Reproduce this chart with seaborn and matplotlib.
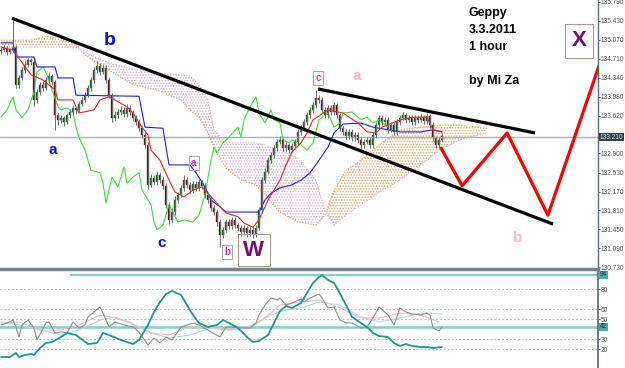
"""Geppy 3.3.2011, 1 hour chart with Ichimoku and wave marks
"""

import numpy as np
import pandas as pd
import matplotlib

matplotlib.use("Agg")
import matplotlib.pyplot as plt
import seaborn as sns

# hourly candles: open, high, low, close (bar 0 = left edge of chart)
candles = [
    (134.85, 134.95, 134.80, 134.87), (134.87, 134.96, 134.83, 134.91), (134.91, 134.95, 134.78, 134.84),
    (134.84, 134.92, 134.80, 134.87), (134.87, 135.45, 134.84, 134.93), (134.93, 134.97, 134.14, 134.21),
    (134.21, 134.40, 134.15, 134.34), (134.34, 134.55, 134.30, 134.49), (134.49, 134.66, 134.44, 134.59),
    (134.59, 134.74, 134.55, 134.68), (134.68, 134.72, 134.58, 134.64), (134.64, 134.68, 133.80, 133.92),
    (133.92, 134.12, 133.86, 134.07), (134.07, 134.26, 134.02, 134.21), (134.21, 134.28, 134.10, 134.15),
    (134.15, 134.36, 134.11, 134.30), (134.30, 134.45, 134.25, 134.38), (134.38, 134.42, 134.20, 134.26),
    (134.26, 134.30, 133.35, 133.63), (133.63, 133.68, 133.45, 133.54), (133.54, 133.64, 133.48, 133.58),
    (133.58, 133.62, 133.42, 133.50), (133.50, 133.68, 133.46, 133.63), (133.63, 133.75, 133.58, 133.69),
    (133.69, 133.83, 133.64, 133.77), (133.77, 133.80, 133.66, 133.73), (133.73, 133.90, 133.69, 133.84),
    (133.84, 133.98, 133.80, 133.92), (133.92, 134.07, 133.88, 134.01), (134.01, 134.21, 133.97, 134.15),
    (134.15, 134.36, 134.10, 134.30), (134.30, 134.55, 134.25, 134.49), (134.49, 134.66, 134.44, 134.57),
    (134.57, 134.62, 134.40, 134.45), (134.45, 134.60, 134.41, 134.53), (134.53, 134.58, 134.24, 134.30),
    (134.30, 134.35, 133.95, 134.01), (134.01, 134.05, 133.50, 133.58), (133.58, 133.70, 133.52, 133.63),
    (133.63, 133.75, 133.58, 133.69), (133.69, 133.80, 133.64, 133.73), (133.73, 133.78, 133.59, 133.65),
    (133.65, 133.84, 133.60, 133.77), (133.77, 133.82, 133.63, 133.69), (133.69, 133.73, 133.52, 133.58),
    (133.58, 133.63, 133.44, 133.50), (133.50, 133.56, 133.32, 133.38), (133.38, 133.44, 133.19, 133.25),
    (133.25, 133.31, 133.00, 133.06), (133.06, 133.12, 132.22, 132.30), (132.30, 132.50, 132.25, 132.43),
    (132.43, 132.48, 132.29, 132.35), (132.35, 132.56, 132.30, 132.49), (132.49, 132.54, 132.33, 132.39),
    (132.39, 132.45, 132.22, 132.28), (132.28, 132.33, 131.85, 131.92), (131.92, 131.98, 131.55, 131.63),
    (131.63, 131.85, 131.58, 131.78), (131.78, 132.08, 131.73, 132.01), (132.01, 132.17, 131.96, 132.11),
    (132.11, 132.30, 132.06, 132.24), (132.24, 132.48, 132.19, 132.39), (132.39, 132.44, 132.24, 132.30),
    (132.30, 132.35, 132.14, 132.20), (132.20, 132.38, 132.15, 132.32), (132.32, 132.37, 132.18, 132.24),
    (132.24, 132.42, 132.19, 132.35), (132.35, 132.40, 132.22, 132.28), (132.28, 132.33, 132.05, 132.11),
    (132.11, 132.16, 131.95, 132.01), (132.01, 132.06, 131.80, 131.86), (131.86, 131.92, 131.72, 131.78),
    (131.78, 131.83, 131.52, 131.59), (131.59, 131.64, 131.11, 131.34), (131.34, 131.50, 131.28, 131.44),
    (131.44, 131.65, 131.39, 131.59), (131.59, 131.64, 131.45, 131.51), (131.51, 131.69, 131.46, 131.63),
    (131.63, 131.68, 131.47, 131.53), (131.53, 131.58, 131.42, 131.48), (131.48, 131.53, 131.33, 131.40),
    (131.40, 131.54, 131.35, 131.48), (131.48, 131.52, 131.31, 131.38), (131.38, 131.50, 131.33, 131.44),
    (131.44, 131.49, 131.29, 131.36), (131.36, 131.54, 131.31, 131.48), (131.48, 131.88, 131.43, 131.82),
    (131.82, 132.45, 131.77, 132.39), (132.39, 132.62, 132.33, 132.55), (132.55, 132.84, 132.50, 132.77),
    (132.77, 132.93, 132.72, 132.87), (132.87, 133.06, 132.82, 133.00), (133.00, 133.18, 132.95, 133.12),
    (133.12, 133.24, 133.07, 133.16), (133.16, 133.20, 132.94, 133.00), (133.00, 133.12, 132.95, 133.06),
    (133.06, 133.10, 132.90, 132.96), (132.96, 133.10, 132.91, 133.04), (133.04, 133.18, 132.99, 133.12),
    (133.12, 133.37, 133.07, 133.31), (133.31, 133.44, 133.26, 133.38), (133.38, 133.56, 133.33, 133.50),
    (133.50, 133.69, 133.45, 133.63), (133.63, 133.79, 133.58, 133.73), (133.73, 133.88, 133.68, 133.82),
    (133.82, 134.11, 133.77, 133.96), (133.96, 134.01, 133.86, 133.92), (133.92, 133.97, 133.67, 133.73),
    (133.73, 133.78, 133.57, 133.63), (133.63, 133.83, 133.58, 133.77), (133.77, 133.82, 133.63, 133.69),
    (133.69, 133.88, 133.64, 133.82), (133.82, 133.87, 133.57, 133.63), (133.63, 133.68, 133.32, 133.38),
    (133.38, 133.43, 133.25, 133.31), (133.31, 133.36, 133.17, 133.23), (133.23, 133.37, 133.18, 133.31),
    (133.31, 133.36, 133.13, 133.19), (133.19, 133.31, 133.14, 133.25), (133.25, 133.30, 133.10, 133.16),
    (133.16, 133.21, 132.92, 133.06), (133.06, 133.18, 133.01, 133.12), (133.12, 133.22, 133.07, 133.16),
    (133.16, 133.21, 133.00, 133.06), (133.06, 133.31, 133.01, 133.25), (133.25, 133.50, 133.20, 133.44),
    (133.44, 133.64, 133.39, 133.58), (133.58, 133.63, 133.44, 133.50), (133.50, 133.60, 133.45, 133.54),
    (133.54, 133.59, 133.29, 133.35), (133.35, 133.50, 133.30, 133.44), (133.44, 133.49, 133.25, 133.31),
    (133.31, 133.56, 133.26, 133.50), (133.50, 133.64, 133.45, 133.58), (133.58, 133.69, 133.53, 133.63),
    (133.63, 133.68, 133.48, 133.54), (133.54, 133.64, 133.49, 133.58), (133.58, 133.63, 133.44, 133.50),
    (133.50, 133.64, 133.45, 133.58), (133.58, 133.63, 133.48, 133.54), (133.54, 133.65, 133.49, 133.59),
    (133.59, 133.64, 133.46, 133.52), (133.52, 133.67, 133.47, 133.61), (133.61, 133.66, 133.38, 133.44),
    (133.44, 133.49, 133.13, 133.19), (133.19, 133.24, 133.00, 133.06), (133.06, 133.22, 133.01, 133.16),
    (133.16, 133.29, 133.11, 133.23),
]

# Ichimoku: tenkan (red), kijun (blue), chikou (green)
tenkan_bar = [0, 4, 10, 14, 18, 19, 24, 26, 31, 33, 36, 42, 44, 47, 49, 50, 53, 56, 58, 61, 64, 67, 71, 73,
              75, 79, 81, 84, 86, 89, 91, 93, 95, 97, 100, 102, 104, 109, 114, 119, 122, 125, 127, 133,
              137, 142, 144, 147]
tenkan = [134.93, 134.87, 134.40, 134.30, 134.11, 133.92, 133.92, 133.67, 133.73, 133.92, 133.98, 133.79,
          133.67, 133.40, 133.25, 132.96, 132.77, 132.39, 132.16, 132.07, 132.20, 132.26, 132.01, 131.88,
          131.76, 131.69, 131.57, 131.49, 131.63, 132.01, 132.20, 132.39, 132.68, 132.93, 133.10, 133.29,
          133.54, 133.73, 133.67, 133.48, 133.31, 133.29, 133.40, 133.54, 133.59, 133.59, 133.35, 133.31]

kijun_bar = [0, 4, 5, 11, 12, 18, 19, 24, 25, 46, 48, 54, 55, 56, 63, 65, 68, 70, 73, 75, 86, 88, 90, 93,
             97, 100, 103, 106, 109, 111, 114, 120, 124, 129, 133, 140, 144, 147]
kijun = [135.01, 135.01, 134.74, 134.74, 134.55, 134.55, 134.34, 134.34, 134.01, 133.99, 133.40, 133.38,
         133.02, 132.68, 132.68, 132.53, 132.26, 132.01, 131.88, 131.78, 131.78, 132.01, 132.14, 132.24,
         132.30, 132.39, 132.53, 132.77, 133.02, 133.29, 133.46, 133.48, 133.40, 133.35, 133.31, 133.31,
         133.35, 133.31]

chikou_bar = [0, 2, 4, 5, 7, 9, 11, 12, 14, 15, 17, 19, 20, 22, 24, 25, 26, 28, 30, 33, 34, 35, 36, 37,
              39, 41, 42, 44, 46, 47, 50, 51, 52, 54, 56, 59, 61, 64, 66, 68, 70, 71, 72, 74, 76, 79, 80,
              81, 83, 85, 86, 88, 90, 91, 93, 94, 96, 97, 100, 102, 104, 106, 109, 111, 113, 114, 117,
              120, 122, 124, 126, 129]
chikou = [133.59, 133.73, 133.98, 133.73, 133.58, 133.73, 134.07, 134.45, 134.55, 134.45, 134.11, 133.79,
          133.73, 133.77, 133.67, 133.40, 133.21, 132.96, 132.58, 132.53, 132.33, 131.95, 132.20, 132.45,
          132.26, 132.64, 132.33, 132.45, 132.53, 132.20, 131.92, 131.59, 131.44, 131.53, 131.92, 131.59,
          131.63, 131.59, 131.72, 132.11, 132.77, 133.02, 132.91, 133.10, 133.21, 133.40, 133.21, 133.54,
          133.79, 133.98, 133.67, 133.48, 133.73, 133.54, 133.48, 133.16, 133.10, 133.16, 133.06, 132.96,
          133.10, 133.54, 133.67, 133.40, 133.48, 133.67, 133.69, 133.54, 133.59, 133.48, 133.54, 133.40]

# cloud: senkou span A (sandy) and span B (thistle)
cloud_bar = [0, 10, 15, 20, 25, 28, 32, 36, 44, 52, 60, 63, 66, 69, 71, 75, 80, 85, 88, 93, 99, 105, 108,
             111, 115, 120, 126, 133, 140, 146, 153, 162]
span_a = [135.06, 135.06, 135.14, 135.06, 134.99, 134.78, 134.63, 134.49, 134.21, 134.11, 133.92, 133.73,
          133.59, 133.29, 133.00, 132.62, 132.39, 132.30, 132.11, 131.78, 131.59, 131.53, 131.72, 132.20,
          132.58, 132.77, 133.06, 133.35, 133.40, 133.44, 133.44, 133.38]
span_b = [134.93, 134.93, 134.93, 134.93, 134.91, 134.85, 134.72, 134.63, 134.51, 134.43, 134.40, 134.38,
          134.21, 133.92, 133.35, 133.10, 133.10, 133.10, 133.06, 132.96, 132.81, 132.39, 131.82, 131.53,
          131.72, 131.92, 132.16, 132.39, 132.68, 132.96, 133.16, 133.29]

# drawn trend lines and projected zigzag (bar, price)
trend_bar = [3.7, 184]
trend_price = [135.48, 131.55]
channel_bar = [105.7, 178]
channel_price = [134.13, 133.29]
zigzag_bar = [146.7, 153.7, 168.7, 182.3, 199.5]
zigzag_price = [133.00, 132.28, 133.29, 131.72, 134.60]
last_price = 133.21

# 133.260 sits under the last-price box, so it is left out
price_ticks = [135.79, 135.43, 135.07, 134.71, 134.34, 133.98, 133.62, 132.90, 132.53,
               132.17, 131.81, 131.45, 131.09, 130.73]

# lower oscillator panel
teal_bar = [0, 3, 5, 6, 8, 10, 11, 13, 15, 17, 20, 22, 25, 29, 32, 34, 36, 40, 44, 46, 49, 51, 53, 55,
            57, 60, 62, 64, 66, 69, 72, 74, 76, 79, 82, 84, 86, 89, 91, 93, 95, 97, 100, 102, 104, 106,
            107, 109, 111, 112, 115, 117, 120, 122, 124, 126, 129, 131, 133, 135, 137, 140, 142, 144, 147]
teal = [12, 12, 16, 12, 14, 15, 14, 21, 26, 27, 32, 36, 34, 25, 26, 36, 34, 29, 25, 29, 44, 57, 67, 75,
        78, 74, 64, 54, 46, 42, 44, 49, 46, 41, 32, 27, 28, 34, 46, 58, 63, 61, 66, 76, 86, 92, 94, 89,
        86, 81, 64, 52, 46, 42, 36, 33, 32, 26, 23, 25, 23, 22, 22, 21, 22]
gray_bar = [0, 2, 4, 5, 6, 7, 9, 11, 12, 15, 16, 18, 20, 22, 24, 26, 28, 29, 31, 33, 34, 36, 38, 41, 44,
            46, 49, 51, 53, 55, 57, 60, 62, 64, 66, 70, 73, 75, 77, 80, 83, 85, 86, 88, 90, 92, 93, 95,
            97, 100, 101, 103, 106, 107, 109, 111, 113, 115, 117, 120, 122, 124, 126, 129, 131, 133,
            135, 137, 140, 142, 143, 144, 146, 147]
gray = [44, 46, 49, 42, 32, 44, 49, 41, 29, 46, 47, 36, 37, 36, 47, 41, 44, 52, 57, 62, 56, 42, 47, 44,
        42, 37, 24, 31, 26, 32, 29, 42, 44, 46, 44, 37, 32, 42, 42, 41, 41, 46, 54, 64, 71, 69, 71, 64,
        66, 70, 67, 71, 75, 71, 61, 62, 49, 46, 46, 41, 42, 51, 62, 54, 44, 61, 57, 55, 54, 56, 54, 41,
        38, 42]
pink_bar = [0, 6, 13, 20, 26, 33, 38, 43, 50, 56, 63, 70, 76, 83, 88, 93, 100, 106, 113, 120, 126, 133,
            140, 146]
pink = [46, 47, 39, 39, 44, 54, 51, 46, 36, 34, 42, 41, 39, 41, 51, 64, 67, 69, 61, 51, 51, 56, 54, 47]
sky_bar = [0, 6, 13, 20, 26, 33, 38, 43, 50, 56, 63, 70, 76, 83, 90, 95, 100, 106, 113, 120, 126, 133,
           140, 147]
sky = [47, 44, 39, 34, 39, 49, 52, 47, 36, 31, 34, 41, 39, 43, 54, 59, 61, 67, 64, 52, 47, 51, 56, 55]
osc_ticks = [80, 60, 50, 30, 20]

sns.set_theme(style="white")
plt.rcParams["font.family"] = ["Liberation Sans", "DejaVu Sans"]
plt.rcParams["hatch.linewidth"] = 0.7

fig = plt.figure(figsize=(6.25, 3.68), dpi=100)
ax = fig.add_axes([0, 1 - 268 / 368, 598 / 625, 268 / 368])
ax2 = fig.add_axes([0, 0, 598 / 625, 99 / 368], sharex=ax)

df = pd.DataFrame(candles, columns=["open", "high", "low", "close"])
df["bar"] = np.arange(len(df))
up = df["close"] >= df["open"]

# Cloud
cloud = pd.DataFrame({"bar": cloud_bar, "a": span_a, "b": span_b})
ax.fill_between(cloud["bar"], cloud["a"], cloud["b"], where=cloud["a"] >= cloud["b"], interpolate=True,
                facecolor="none", edgecolor="#F2A15E", hatch="......", linewidth=0)
ax.fill_between(cloud["bar"], cloud["a"], cloud["b"], where=cloud["a"] < cloud["b"], interpolate=True,
                facecolor="none", edgecolor="#D9AFCF", hatch="......", linewidth=0)
ax.plot(cloud["bar"], cloud["a"], color="#F2A15E", ls=(0, (1, 1.2)), lw=0.9)
ax.plot(cloud["bar"], cloud["b"], color="#D8B8D8", ls=(0, (1, 1.2)), lw=0.9)

ax.axhline(last_price, color="#A8B4BC", lw=1)

# Ichimoku lines
sns.lineplot(x=chikou_bar, y=chikou, ax=ax, color="#33E633", linewidth=0.8, legend=False)
sns.lineplot(x=kijun_bar, y=kijun, ax=ax, color="#1A1AFF", linewidth=0.8, legend=False)
sns.lineplot(x=tenkan_bar, y=tenkan, ax=ax, color="#FF1A1A", linewidth=0.8, legend=False)

# Candles
ax.vlines(df["bar"], df["low"], df["high"], color="#6E6E6E", lw=0.7)
ax.bar(df["bar"][up], (df["close"] - df["open"])[up], bottom=df["open"][up], width=0.65,
       color="#0B6A12", edgecolor="#505050", linewidth=0.3)
ax.bar(df["bar"][~up], (df["open"] - df["close"])[~up], bottom=df["close"][~up], width=0.65,
       color="#5A0A0A", edgecolor="#505050", linewidth=0.3)

# Drawn objects
ax.plot(trend_bar, trend_price, color="black", lw=2.3, solid_capstyle="butt")
ax.plot(channel_bar, channel_price, color="black", lw=2.3, solid_capstyle="butt")
ax.plot(zigzag_bar, zigzag_price, color="#FF0000", lw=2.3)

# Wave labels
ax.text(36.3, 135.05, "b", color="#0A0AF0", fontsize=14, fontweight="bold", ha="center", va="center")
ax.text(17.3, 132.96, "a", color="#0A0AF0", fontsize=11, fontweight="bold", ha="center", va="center")
ax.text(53.7, 131.19, "c", color="#0A0AF0", fontsize=11, fontweight="bold", ha="center", va="center")
box = dict(boxstyle="square,pad=0.25", fc="none", ec="#A89A8A", lw=0.8)
ax.text(84.3, 131.05, "W", color="#7B0C7B", fontsize=16, fontweight="bold", ha="center", va="center",
        bbox=box)
ax.text(192.7, 135.05, "X", color="#7B0C7B", fontsize=16, fontweight="bold", ha="center", va="center",
        bbox=dict(boxstyle="square,pad=0.3", fc="none", ec="#A89A8A", lw=0.8))
small_box = dict(boxstyle="square,pad=0.2", fc="none", ec="#B0A498", lw=0.7)
for bx, py, s in [(64.3, 132.72, "a"), (75.3, 131.02, "b"), (105.7, 134.34, "c")]:
    ax.text(bx, py, s, color="#E020E0", fontsize=7, fontweight="bold", ha="center", va="center",
            bbox=small_box)
ax.text(118.7, 134.38, "a", color="#FFB6C8", fontsize=11, fontweight="bold", ha="center", va="center")
ax.text(172.3, 131.28, "b", color="#FFB6C8", fontsize=11, fontweight="bold", ha="center", va="center")

for py, s in [(135.58, "Geppy"), (135.26, "3.3.2011"), (134.93, "1 hour"), (134.28, "by Mi Za")]:
    ax.text(156, py, s, color="black", fontsize=9, fontweight="bold", ha="left", va="center")

# Price axis on the right
ax.set_xlim(-0.33, 199.0)
ax.set_ylim(130.712, 135.828)
ax.yaxis.tick_right()
ax.set_yticks(price_ticks)
ax.set_yticklabels([f"{t:.3f}" for t in price_ticks])
ax.tick_params(axis="y", labelsize=4.7, colors="#505050", length=1.5, width=0.6, pad=0.4, right=True)
ax.set_xticks([])
for side in ["top", "left", "bottom"]:
    ax.spines[side].set_visible(False)
ax.spines["right"].set_color("#5C6C74")
ax.spines["right"].set_linewidth(1)
ax.annotate("133.210", xy=(1.003, last_price), xycoords=("axes fraction", "data"), fontsize=4.7,
            color="#E8F0F0", va="center", ha="left", annotation_clip=False,
            bbox=dict(boxstyle="square,pad=0.1", fc="#2E4048", ec="none"))

# Oscillator panel
for lv in osc_ticks:
    ax2.axhline(lv, color="#BDBDBD", lw=0.7, ls=(0, (2, 2)))
ax2.hlines(94, 23, 199, color="#7CD3CB", lw=1.5)
ax2.axhline(42, color="#7CD3CB", lw=1.8)
sns.lineplot(x=sky_bar, y=sky, ax=ax2, color="#A9DCE6", linewidth=0.8, legend=False)
sns.lineplot(x=pink_bar, y=pink, ax=ax2, color="#F3B9C3", linewidth=0.8, legend=False)
sns.lineplot(x=gray_bar, y=gray, ax=ax2, color="#8E8E8E", linewidth=0.8, legend=False)
sns.lineplot(x=teal_bar, y=teal, ax=ax2, color="#139C8E", linewidth=1.3, legend=False)

ax2.set_ylim(1, 100)
ax2.yaxis.tick_right()
ax2.set_yticks(osc_ticks)
ax2.set_yticklabels([str(t) for t in osc_ticks])
ax2.tick_params(axis="y", labelsize=4.7, colors="#505050", length=1.5, width=0.6, pad=0.4, right=True)
ax2.tick_params(axis="x", bottom=False, labelbottom=False)
ax2.set_xlabel("")
ax2.set_ylabel("")
ax.set_ylabel("")
for side in ["left", "bottom"]:
    ax2.spines[side].set_visible(False)
ax2.spines["top"].set_color("#7A8288")
ax2.spines["top"].set_linewidth(2.5)
ax2.spines["right"].set_color("#5C6C74")
for lv, s in [(94, "94"), (42, "42")]:
    ax2.annotate(s, xy=(1.003, lv), xycoords=("axes fraction", "data"), fontsize=4.7, color="#203030",
                 va="center", ha="left", annotation_clip=False,
                 bbox=dict(boxstyle="square,pad=0.1", fc="#3DB5A8", ec="none"))

plt.savefig("out.png", dpi=100)
